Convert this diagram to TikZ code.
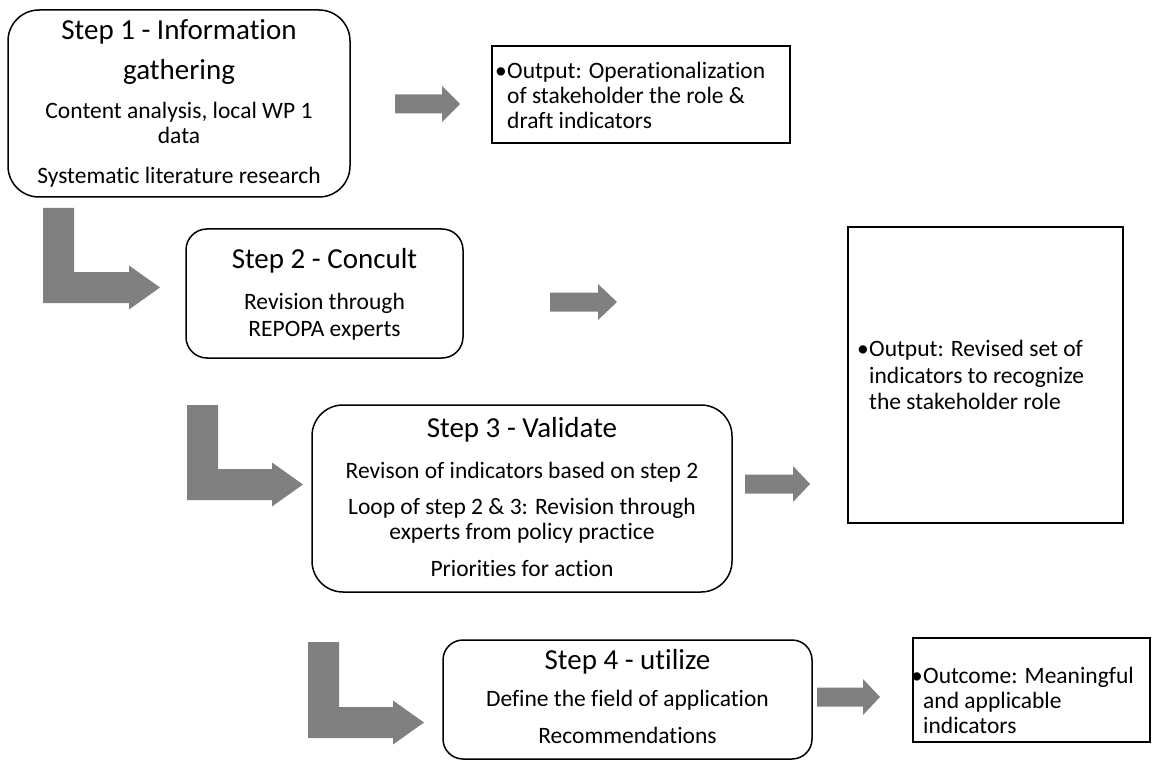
\documentclass[tikz,border=0pt]{standalone}
\usepackage{fontspec}
\setmainfont{Carlito}[Ligatures={NoCommon}]
\definecolor{arrowgray}{RGB}{128,128,128}

% straight block arrow: tail x, head base x, tip x, centre y
\newcommand\blockarr[4]{%
  \fill[arrowgray] (#1,#4-9.5) -- (#2,#4-9.5) -- (#2,#4-18) -- (#3,#4)
    -- (#2,#4+18) -- (#2,#4+9.5) -- (#1,#4+9.5) -- cycle;}
% bent (L-shaped) block arrow: bar left x, top y, lower bar top y, head base x, tip x
\newcommand\bentarr[5]{%
  \fill[arrowgray] (#1,#2) -- (#1+31,#2) -- (#1+31,#3) -- (#4,#3) -- (#4,#3-6.5)
    -- (#5,#3+15.5) -- (#4,#3+37.5) -- (#4,#3+31) -- (#1,#3+31) -- cycle;}

\begin{document}
\begin{tikzpicture}[x=1pt,y=-1pt,
  stepbox/.style={draw=black, line width=1.5pt, fill=white, inner sep=0pt, outer sep=0pt},
  outbox/.style={draw=black, line width=1.5pt, fill=white, inner sep=0pt, outer sep=0pt},
  ttl/.style={font=\fontsize{29}{35}\selectfont, anchor=base, inner sep=0pt},
  txt/.style={font=\fontsize{23.5}{27}\selectfont, anchor=base, inner sep=0pt},
  otxt/.style={font=\fontsize{23.5}{27}\selectfont, anchor=base west, inner sep=0pt},
  bul/.style={font=\fontsize{23.5}{27}\selectfont, anchor=base east, inner sep=0pt},
]
\useasboundingbox (0,0) rectangle (1154,762);

% ---- step boxes ----
\node[stepbox, rounded corners=31pt, minimum width=342pt, minimum height=187pt] (s1) at (179,103.5) {};
\node[stepbox, rounded corners=21pt, minimum width=277pt, minimum height=129pt] (s2) at (324.5,293.5) {};
\node[stepbox, rounded corners=31pt, minimum width=420pt, minimum height=187pt] (s3) at (522,498.5) {};
\node[stepbox, rounded corners=20pt, minimum width=369pt, minimum height=119pt] (s4) at (627.5,699.5) {};

% ---- output boxes ----
\node[outbox, minimum width=298pt, minimum height=97pt] (o1) at (641,94.5) {};
\node[outbox, minimum width=275pt, minimum height=296pt] (o2) at (985.5,375) {};
\node[outbox, minimum width=237pt, minimum height=104pt] (o3) at (1031.5,690) {};

% ---- step 1 text ----
\node[ttl] (s1t1) at (179,40) {Step 1 - Information};
\node[ttl] (s1t2) at (179,80) {gathering};
\node[txt] (s1b1) at (179,119) {Content analysis, local WP 1};
\node[txt] (s1b2) at (179,144) {data};
\node[txt] (s1b3) at (179,184) {Systematic literature research};

% ---- step 2 text ----
\node[ttl] (s2t1) at (324.5,269) {Step 2 - Concult};
\node[txt] (s2b1) at (324.5,309) {Revision through};
\node[txt] (s2b2) at (324.5,336) {REPOPA experts};

% ---- step 3 text ----
\node[ttl] (s3t1) at (522,437) {Step 3 - Validate};
\node[txt] (s3b1) at (522,478) {Revison of indicators based on step 2};
\node[txt] (s3b2) at (522,514) {Loop of step 2 \& 3: Revision through};
\node[txt] (s3b3) at (522,539) {experts from policy practice};
\node[txt] (s3b4) at (522,576) {Priorities for action};

% ---- step 4 text ----
\node[ttl] (s4t1) at (627.5,669) {Step 4 - utilize};
\node[txt] (s4b1) at (627.5,706) {Define the field of application};
\node[txt] (s4b2) at (627.5,743) {Recommendations};

% ---- output texts ----
\node[bul] (o1d) at (507,79) {\textbullet};
\node[otxt] (o1a) at (507,79) {Output: Operationalization};
\node[otxt] (o1b) at (507,104) {of stakeholder the role \&};
\node[otxt] (o1c) at (507,129) {draft indicators};

\node[bul] (o2d) at (869,356) {\textbullet};
\node[otxt] (o2a) at (869,356) {Output: Revised set of};
\node[otxt] (o2b) at (869,383) {indicators to recognize};
\node[otxt] (o2c) at (869,409) {the stakeholder role};

\node[bul] (o3d) at (923,683) {\textbullet};
\node[otxt] (o3a) at (923,683) {Outcome: Meaningful};
\node[otxt] (o3b) at (923,708) {and applicable};
\node[otxt] (o3c) at (923,733) {indicators};

% ---- block arrows ----
\blockarr{395}{442}{460}{104}
\blockarr{550}{598}{617}{302}
\blockarr{745}{793}{810}{484}
\blockarr{817}{863}{880}{697}

\bentarr{43}{208}{272}{129}{160}
\bentarr{187}{405}{469}{272}{303}
\bentarr{308}{642}{707}{393}{424}
\end{tikzpicture}
\end{document}
